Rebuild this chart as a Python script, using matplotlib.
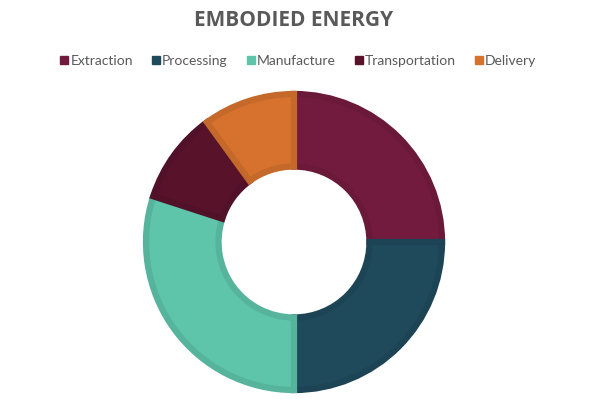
import matplotlib.pyplot as plt
from matplotlib.colors import to_rgb
from matplotlib.lines import Line2D

labels = ["Extraction", "Processing", "Manufacture", "Transportation", "Delivery"]
shares = [25, 25, 30, 10, 10]
colors = ["#731B3E", "#1F4A5B", "#5EC4AA", "#58132B", "#D6722E"]

TEXT_COLOR = "#595959"


def _darker(c, f=0.92):
    r, g, b = to_rgb(c)
    return (r * f, g * f, b * f)


fig = plt.figure(figsize=(6.0, 4.07), dpi=100)
ax = fig.add_axes([(294 - 150) / 600, (165 - 150) / 407, 300 / 600, 300 / 407])

wedges, _ = ax.pie(
    shares,
    colors=colors,
    startangle=90,
    counterclock=False,
    radius=1.0,
    wedgeprops=dict(width=0.49, linewidth=4.5),
)
for w, c in zip(wedges, colors):
    w.set_edgecolor(_darker(c))
    w.set_clip_path(w)

lim = 150 / 148
ax.set_xlim(-lim, lim)
ax.set_ylim(-lim, lim)
ax.set_aspect("equal")
ax.axis("off")

fig.text(0.49, 1 - 21 / 407, "EMBODIED ENERGY", ha="center", va="center",
         fontsize=15, fontweight="bold", color=TEXT_COLOR, family="Open Sans")

handles = [
    Line2D([], [], linestyle="none", marker="s", markersize=6,
           markerfacecolor=c, markeredgecolor=c)
    for c in colors
]
fig.legend(
    handles,
    labels,
    loc="center",
    bbox_to_anchor=(0.497, 1 - 61 / 407),
    ncol=5,
    frameon=False,
    handlelength=0.6,
    handletextpad=0.15,
    columnspacing=1.35,
    prop=dict(family="Lato", size=10),
    labelcolor=TEXT_COLOR,
)

fig.savefig("out.png", dpi=100)
